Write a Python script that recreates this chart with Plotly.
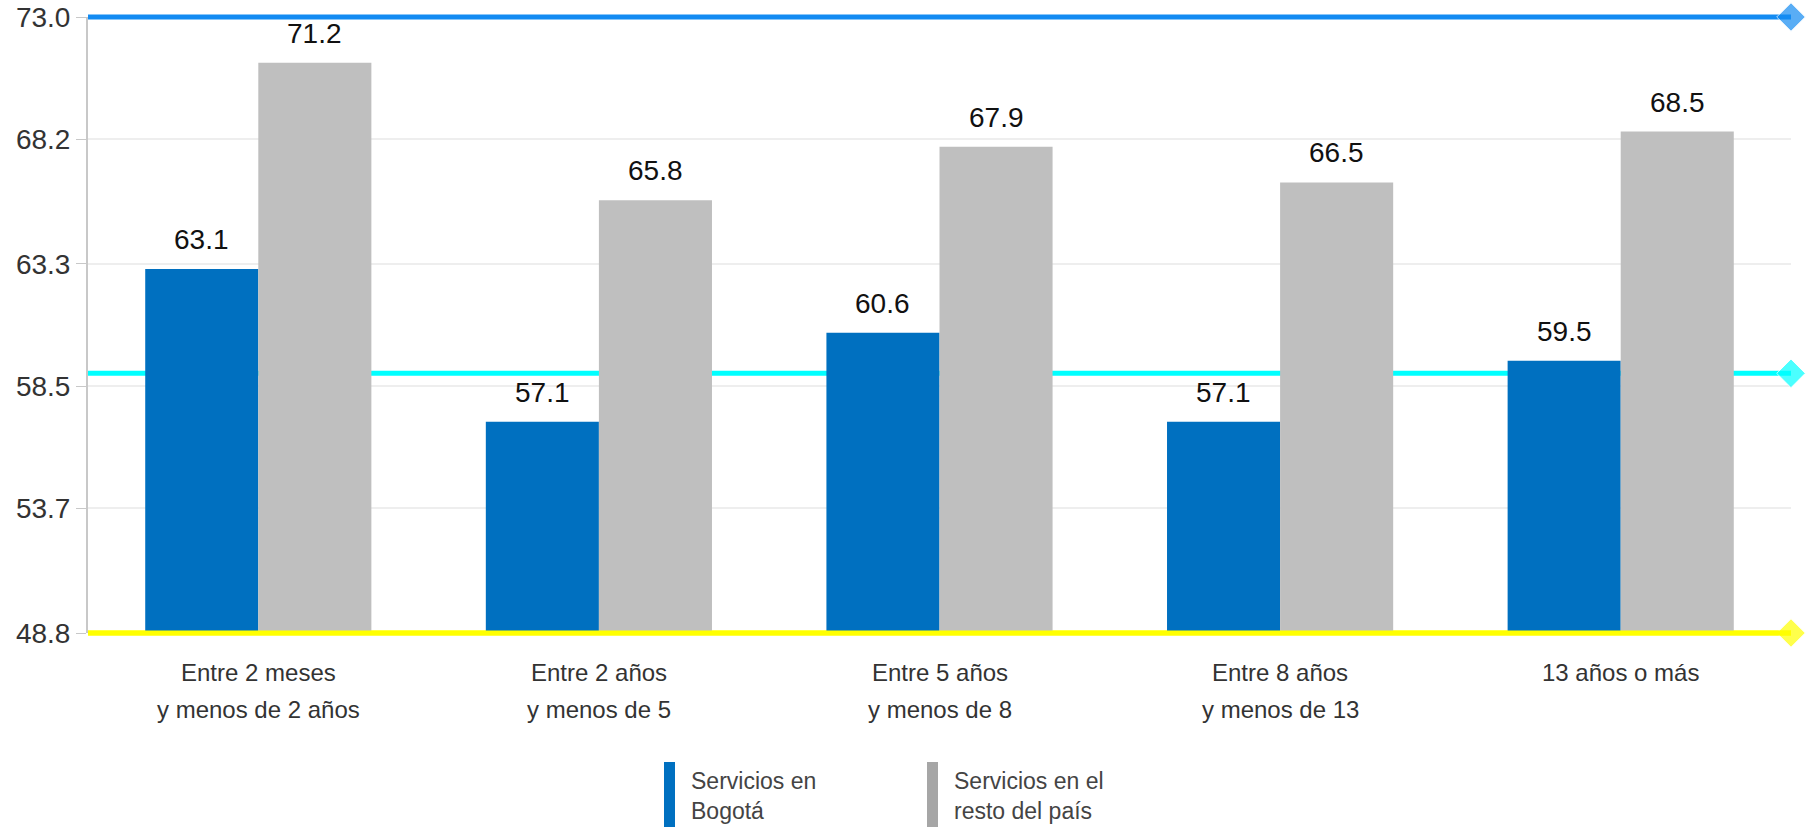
"""Bar chart: servicios en Bogotá vs resto del país, por tiempo de servicio."""

import plotly.graph_objects as go

# data
categories = [
    "Entre 2 meses<br>y menos de 2 años",
    "Entre 2 años<br>y menos de 5",
    "Entre 5 años<br>y menos de 8",
    "Entre 8 años<br>y menos de 13",
    "13 años o más",
]
bogota = [63.1, 57.1, 60.6, 57.1, 59.5]
resto_pais = [71.2, 65.8, 67.9, 66.5, 68.5]
series_names = ["Servicios en<br>Bogotá", "Servicios en el<br>resto del país"]
y_ticks = [48.8, 53.7, 58.5, 63.3, 68.2, 73.0]
y_range = [48.8, 73.0]
ref_levels = [73.0, 59.0, 48.8]
ref_colors = ["#138bf2", "#00ffff", "#ffff00"]

BLUE = "#0070c0"
GRAY = "#bfbfbf"
FONT = "Liberation Sans, Arial, sans-serif"

W, H = 1808, 827
PAD = 8  # extra room so the reference lines at the range ends are not clipped
M = dict(l=88, r=17, t=17 - PAD, b=194 - PAD)
plot_w = W - M["l"] - M["r"]
plot_h = H - M["t"] - M["b"]
inner_h = plot_h - 2 * PAD
cat_w = plot_w / len(categories)
bargap = 0.336
bar_w = cat_w * (1 - bargap) / 2

# the line axis maps values to exactly the same pixels as the bar axis
per_px = (y_range[1] - y_range[0]) / inner_h
line_range = [y_range[0] - PAD * per_px, y_range[1] + PAD * per_px]


def px_x(x):
    """page x pixel -> paper fraction"""
    return (x - M["l"]) / plot_w


def px_y(y):
    """page y pixel -> paper fraction"""
    return (H - M["b"] - y) / plot_h


fig = go.Figure()

# reference lines (lower subplot, behind the bars)
for lvl, col in zip(ref_levels, ref_colors):
    fig.add_trace(go.Scatter(
        x=[0, 1], y=[lvl, lvl], xaxis="x", yaxis="y", mode="lines+markers",
        line=dict(color=col, width=5),
        marker=dict(symbol="diamond", size=[0, 22], color=col),
        cliponaxis=False, showlegend=False, hoverinfo="skip",
    ))

# bottom line sits on top of the bars
fig.add_shape(type="line", xref="x", yref="y", x0=0, x1=1,
              y0=ref_levels[2], y1=ref_levels[2], layer="above",
              line=dict(color=ref_colors[2], width=5))

fig.add_trace(go.Bar(x=categories, y=bogota, xaxis="x2", yaxis="y2",
                     name=series_names[0], marker=dict(color=BLUE, line=dict(width=0))))
fig.add_trace(go.Bar(x=categories, y=resto_pais, xaxis="x2", yaxis="y2",
                     name=series_names[1], marker=dict(color=GRAY, line=dict(width=0))))

# value labels above bars
for vals, sign in [(bogota, -1), (resto_pais, 1)]:
    for c, v in zip(categories, vals):
        fig.add_annotation(x=c, y=v, xref="x2", yref="y2", text=f"{v:.1f}",
                           showarrow=False, yanchor="bottom", yshift=12,
                           xshift=sign * bar_w / 2,
                           font=dict(size=28, color="#111111", family=FONT))

# category labels, one annotation per line for the wider line pitch
for c in categories:
    for i, line in enumerate(c.split("<br>")):
        fig.add_annotation(x=c, y=0, xref="x2", yref="y2 domain", text=line,
                           showarrow=False, yanchor="top", yshift=-24 - 37 * i,
                           font=dict(size=24, color="#333333", family=FONT))

# manual legend
leg = [(664, 689, BLUE, series_names[0]), (927, 952, "#a6a6a6", series_names[1])]
for x0, tx, col, name in leg:
    fig.add_shape(type="rect", xref="paper", yref="paper",
                  x0=px_x(x0), x1=px_x(x0 + 11), y0=px_y(830), y1=px_y(762),
                  fillcolor=col, line=dict(width=0))
    fig.add_annotation(xref="paper", yref="paper", x=px_x(tx), y=px_y(766),
                       xanchor="left", yanchor="top", align="left",
                       text=name, showarrow=False,
                       font=dict(size=23, color="#444444", family=FONT))

fig.update_layout(
    width=W, height=H, margin=M,
    paper_bgcolor="white", plot_bgcolor="rgba(0,0,0,0)",
    barmode="group", bargap=bargap, bargroupgap=0,
    showlegend=False,
    font=dict(family=FONT, size=28, color="#333333"),
    xaxis=dict(range=[0, 1], visible=False, automargin=False),
    yaxis=dict(range=line_range, domain=[0, 1], tickvals=y_ticks,
               showticklabels=False, ticks="", showline=False, zeroline=False,
               showgrid=True, gridcolor="#eeeeee", gridwidth=1.5, automargin=False),
    xaxis2=dict(anchor="y2", domain=[0, 1], showgrid=False, showline=False,
                ticks="", showticklabels=False, automargin=False),
    yaxis2=dict(anchor="x2", range=y_range,
                domain=[PAD / plot_h, 1 - PAD / plot_h],
                tickvals=y_ticks, tickformat=".1f", showgrid=False,
                showline=True, linecolor="#c8c8c8", linewidth=2,
                ticks="outside", ticklen=10, tickcolor="#c8c8c8",
                zeroline=False, automargin=False, ticklabeloverflow="allow",
                tickfont=dict(size=28, color="#333333")),
)

# drop the default page margin so the figure fills the window
fig.write_html("out.html", config={"displayModeBar": False},
               post_script="document.body.style.margin = '0';")
